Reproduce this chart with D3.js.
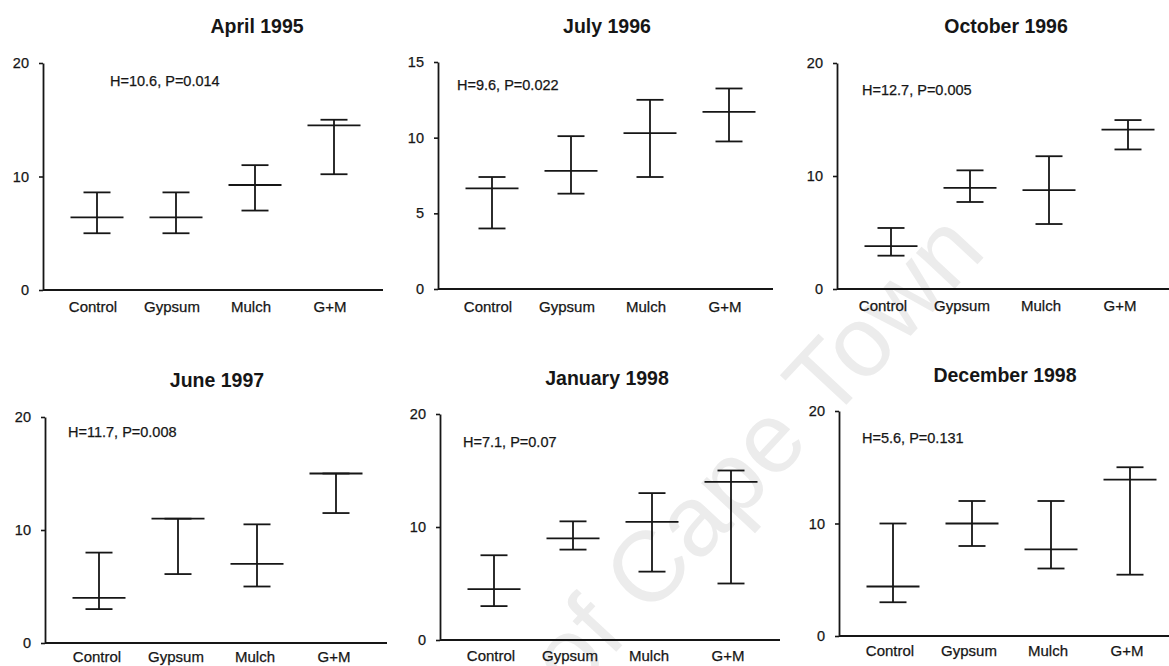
<!DOCTYPE html>
<html>
<head>
<meta charset="utf-8">
<script src="https://cdn.jsdelivr.net/npm/d3@7/dist/d3.min.js"></script>
<style>
  html, body { margin: 0; padding: 0; background: #fff; }
  svg { display: block; }
</style>
</head>
<body>
<svg id="chart" width="1169" height="666"></svg>
<script>
// Treatments along the x axis of every panel
const categories = ["Control", "Gypsum", "Mulch", "G+M"];

// Sampling dates, one panel each
const panelTitles = ["April 1995", "July 1996", "October 1996", "June 1997", "January 1998", "December 1998"];

// Kruskal-Wallis results printed in each panel
const statLabels = ["H=10.6, P=0.014", "H=9.6, P=0.022", "H=12.7, P=0.005",
                    "H=11.7, P=0.008", "H=7.1, P=0.07", "H=5.6, P=0.131"];

// Y axis extent and tick values per panel
const yMaxima = [20, 15, 20, 20, 20, 20];
const yTickSets = [[0, 10, 20], [0, 5, 10, 15], [0, 10, 20], [0, 10, 20], [0, 10, 20], [0, 10, 20]];

// Upper whisker, median and lower whisker per treatment (Control, Gypsum, Mulch, G+M)
const upperValues = [
  [8.6, 8.6, 11.0, 15.0],
  [7.4, 10.1, 12.5, 13.25],
  [5.4, 10.5, 11.75, 14.95],
  [8.0, 11.0, 10.5, 15.0],
  [7.5, 10.5, 13.0, 15.0],
  [10.0, 12.0, 12.0, 15.0]
];
const medianValues = [
  [6.4, 6.4, 9.25, 14.5],
  [6.65, 7.8, 10.3, 11.7],
  [3.8, 8.95, 8.75, 14.1],
  [4.0, 11.0, 7.0, 15.0],
  [4.5, 9.0, 10.45, 14.0],
  [4.4, 10.0, 7.7, 13.9]
];
const lowerValues = [
  [5.0, 5.0, 7.0, 10.2],
  [4.0, 6.3, 7.4, 9.75],
  [2.95, 7.7, 5.75, 12.35],
  [3.0, 6.1, 5.0, 11.5],
  [3.0, 8.0, 6.05, 5.0],
  [3.0, 8.0, 6.0, 5.45]
];

// Panel frames on the page (pixel layout)
const frames = [
  { ax: 43,  right: 383,  y0: 290, yTop: 63,  titleX: 257,  titleY: 33,  statX: 110, statY: 86,  labelShift: -4, labelDy: 22 },
  { ax: 438, right: 773,  y0: 289, yTop: 62,  titleX: 607,  titleY: 33,  statX: 457, statY: 90,  labelShift: -4, labelDy: 23 },
  { ax: 837, right: 1169, y0: 289, yTop: 63,  titleX: 1006, titleY: 33,  statX: 862, statY: 95,  labelShift: -8, labelDy: 22 },
  { ax: 45,  right: 387,  y0: 643, yTop: 417, titleX: 217,  titleY: 387, statX: 68,  statY: 437, labelShift: -2, labelDy: 19 },
  { ax: 440, right: 780,  y0: 640, yTop: 414, titleX: 607,  titleY: 385, statX: 463, statY: 447, labelShift: -3, labelDy: 21 },
  { ax: 839, right: 1169, y0: 636, yTop: 411, titleX: 1005, titleY: 382, statX: 862, statY: 443, labelShift: -3, labelDy: 20 }
];

const INK = "#161616";
const FONT = "'Liberation Sans', Arial, Helvetica, sans-serif";
const firstOffset = 54, step = 79;
const capHalf = 13.5, medianHalf = 26.5;

const svg = d3.select("#chart");

// Faint diagonal watermark behind the panels
svg.append("text")
  .attr("transform", "translate(988,253) rotate(-47)")
  .attr("text-anchor", "end")
  .attr("font-family", FONT)
  .attr("font-size", 100)
  .attr("fill", "#ececec")
  .text("University of Cape Town");

frames.forEach((f, i) => {
  const g = svg.append("g");

  const y = d3.scaleLinear().domain([0, yMaxima[i]]).range([f.y0, f.yTop]);
  const x = d3.scalePoint().domain(categories)
    .range([f.ax + firstOffset, f.ax + firstOffset + step * (categories.length - 1)]);

  // Title
  g.append("text")
    .attr("x", f.titleX).attr("y", f.titleY)
    .attr("text-anchor", "middle")
    .attr("font-family", FONT).attr("font-weight", "bold").attr("font-size", 19.5)
    .attr("fill", INK)
    .text(panelTitles[i]);

  // Statistic annotation
  g.append("text")
    .attr("x", f.statX).attr("y", f.statY)
    .attr("font-family", FONT).attr("font-size", 14.5)
    .attr("fill", INK).attr("stroke", INK).attr("stroke-width", 0.25)
    .text(statLabels[i]);

  // Y axis
  const yAxis = g.append("g")
    .attr("transform", `translate(${f.ax},0)`)
    .call(d3.axisLeft(y).tickValues(yTickSets[i]).tickSize(4).tickSizeOuter(0).tickPadding(10).tickFormat(d3.format("d")));
  yAxis.select(".domain").attr("stroke", INK).attr("stroke-width", 1.8);
  yAxis.selectAll(".tick line").attr("stroke", INK).attr("stroke-width", 1.6);
  yAxis.selectAll(".tick text")
    .attr("font-family", FONT).attr("font-size", 14.5).attr("fill", INK)
    .attr("stroke", INK).attr("stroke-width", 0.25);

  // X axis baseline
  g.append("line")
    .attr("x1", f.ax).attr("x2", f.right)
    .attr("y1", y(0)).attr("y2", y(0))
    .attr("stroke", INK).attr("stroke-width", 1.8);

  // Category labels
  g.selectAll(".cat")
    .data(categories)
    .join("text")
    .attr("class", "cat")
    .attr("x", d => x(d) + f.labelShift)
    .attr("y", y(0) + f.labelDy)
    .attr("text-anchor", "middle")
    .attr("font-family", FONT).attr("font-size", 15)
    .attr("fill", INK).attr("stroke", INK).attr("stroke-width", 0.25)
    .text(d => d);

  // Range bars: whisker, caps and median line
  const rows = categories.map((c, k) => ({
    cat: c, hi: upperValues[i][k], med: medianValues[i][k], lo: lowerValues[i][k]
  }));
  const marks = g.selectAll(".range").data(rows).join("g").attr("class", "range")
    .attr("stroke", INK).attr("stroke-width", 1.8);

  marks.append("line")
    .attr("x1", d => x(d.cat)).attr("x2", d => x(d.cat))
    .attr("y1", d => y(d.hi)).attr("y2", d => y(d.lo));
  marks.append("line")
    .attr("x1", d => x(d.cat) - capHalf).attr("x2", d => x(d.cat) + capHalf)
    .attr("y1", d => y(d.hi)).attr("y2", d => y(d.hi));
  marks.append("line")
    .attr("x1", d => x(d.cat) - capHalf).attr("x2", d => x(d.cat) + capHalf)
    .attr("y1", d => y(d.lo)).attr("y2", d => y(d.lo));
  marks.append("line")
    .attr("x1", d => x(d.cat) - medianHalf).attr("x2", d => x(d.cat) + medianHalf)
    .attr("y1", d => y(d.med)).attr("y2", d => y(d.med));
});
</script>
</body>
</html>
